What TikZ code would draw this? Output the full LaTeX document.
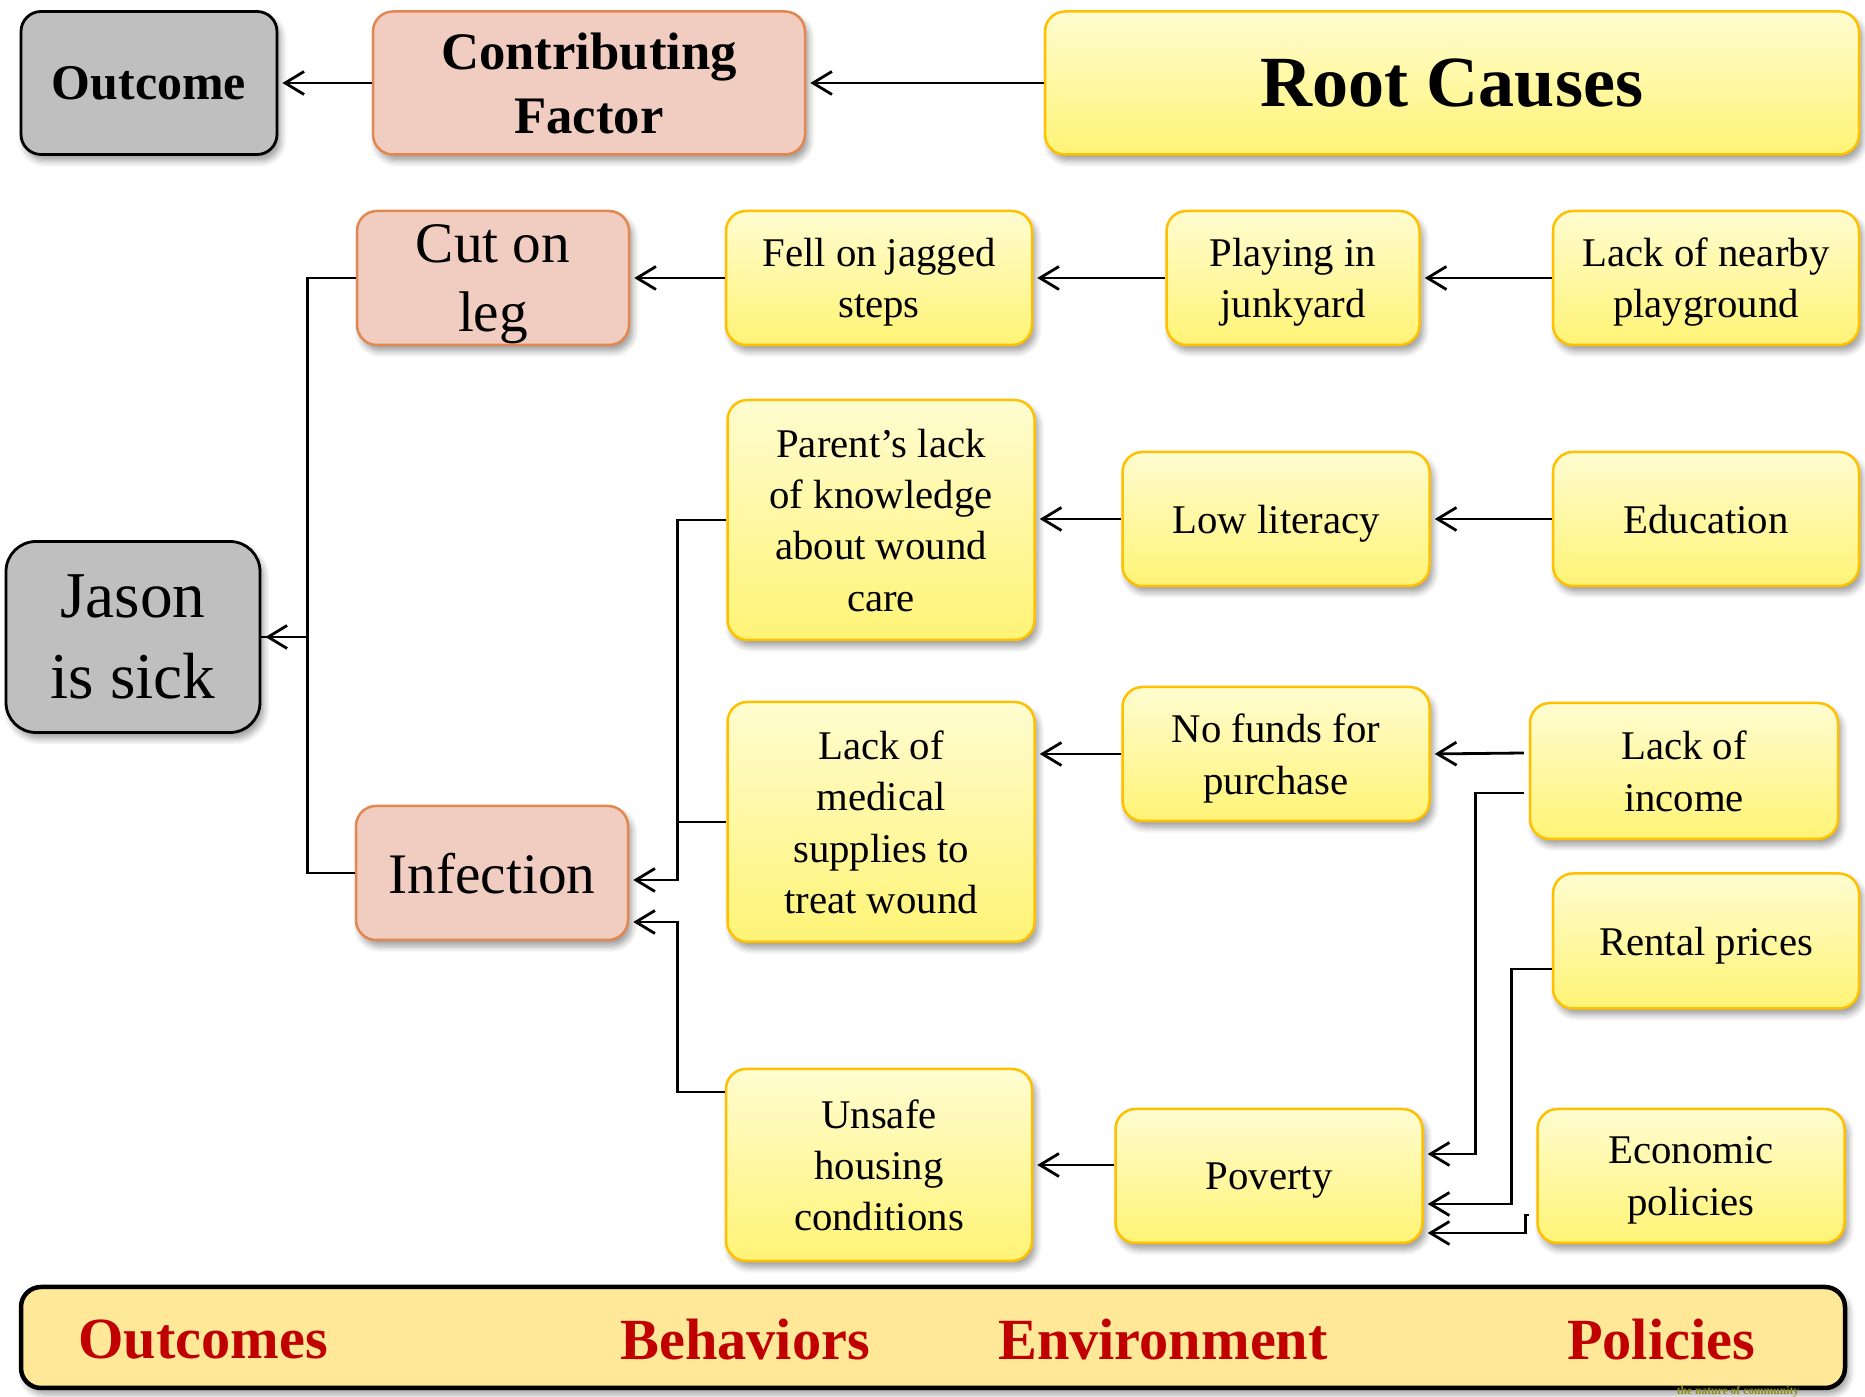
\documentclass[tikz,border=0pt]{standalone}
\usepackage{fontspec}
\setmainfont{Liberation Serif}
\usetikzlibrary{arrows.meta,shadows.blur}

\definecolor{ytop}{RGB}{255,252,208}
\definecolor{ybot}{RGB}{255,244,118}
\definecolor{gold}{RGB}{255,192,0}
\definecolor{pinkfill}{RGB}{240,205,192}
\definecolor{pinkline}{RGB}{226,135,80}
\definecolor{grayfill}{RGB}{191,191,191}
\definecolor{barfill}{RGB}{255,233,153}
\definecolor{barred}{RGB}{192,0,0}
\definecolor{olive}{RGB}{140,140,20}

\tikzset{
  soft/.style={blur shadow={shadow xshift=0.35mm, shadow yshift=-0.6mm,
                            shadow blur steps=6, shadow opacity=40}},
  box/.style={rounded corners=2mm, align=center, inner sep=0pt, text depth=0pt, soft},
  ybox/.style={box, draw=gold, line width=0.25mm, top color=ytop, bottom color=ybot,
               font=\fontsize{11.6}{14.6}\selectfont},
  pbox/.style={box, draw=pinkline, line width=0.25mm, fill=pinkfill},
  gbox/.style={box, draw=black, line width=0.28mm, fill=grayfill},
  arr/.style={-{Straight Barb[length=1.9mm,width=2.3mm,line width=0.28mm]},
              line width=0.28mm, shorten >=0.4mm},
  link/.style={line width=0.28mm},
  bartext/.style={text=barred, font=\fontsize{16.6}{20}\selectfont\bfseries}
}

\begin{document}
\begin{tikzpicture}[x=0.1mm, y=-0.1mm]
\useasboundingbox (0,0) rectangle (1865,1397);

% header row
\node[gbox, minimum width=25.6mm, minimum height=14.3mm,
      font=\fontsize{14.2}{17}\selectfont\bfseries] (outcome) at (149,83) {Outcome};
\node[pbox, minimum width=43.2mm, minimum height=14.3mm,
      font=\fontsize{15}{18.2}\selectfont\bfseries] (contrib) at (589,83) {Contributing\\Factor};
\node[ybox, minimum width=81.4mm, minimum height=14.3mm,
      font=\fontsize{20.5}{24}\selectfont\bfseries] (root) at (1452,83) {Root Causes};

% outcome and contributing factors
\node[gbox, rounded corners=3mm, minimum width=25.4mm, minimum height=19.1mm,
      font=\fontsize{18.6}{23}\selectfont] (jason) at (133,637) {Jason\\is sick};
\node[pbox, minimum width=27.2mm, minimum height=13.4mm,
      font=\fontsize{16.3}{19.6}\selectfont] (cut) at (493,278) {Cut on\\leg};
\node[pbox, minimum width=27.2mm, minimum height=13.4mm,
      font=\fontsize{16.3}{19.6}\selectfont] (infection) at (492,873) {Infection};

% behaviors
\node[ybox, minimum width=30.6mm, minimum height=13.4mm] (fell) at (879,278) {Fell on jagged\\steps};
\node[ybox, minimum width=30.7mm, minimum height=24.0mm] (parent) at (881,520)
     {Parent’s lack\\of knowledge\\about wound\\care};
\node[ybox, minimum width=30.7mm, minimum height=24.0mm] (medical) at (881,822)
     {Lack of\\medical\\supplies to\\treat wound};
\node[ybox, minimum width=30.6mm, minimum height=19.2mm] (unsafe) at (879,1165)
     {Unsafe\\housing\\conditions};

% environment
\node[ybox, minimum width=25.3mm, minimum height=13.4mm] (play) at (1293,278) {Playing in\\junkyard};
\node[ybox, minimum width=30.7mm, minimum height=13.4mm] (literacy) at (1276,519) {Low literacy};
\node[ybox, minimum width=30.7mm, minimum height=13.4mm] (funds) at (1276,754) {No funds for\\purchase};
\node[ybox, minimum width=30.7mm, minimum height=13.4mm] (poverty) at (1269,1176) {Poverty};

% policies
\node[ybox, minimum width=30.6mm, minimum height=13.4mm] (nearby) at (1706,278) {Lack of nearby\\playground};
\node[ybox, minimum width=30.6mm, minimum height=13.4mm] (educ) at (1706,519) {Education};
\node[ybox, minimum width=30.8mm, minimum height=13.6mm] (income) at (1684,771) {Lack of\\income};
\node[ybox, minimum width=30.6mm, minimum height=13.5mm] (rental) at (1706,941) {Rental prices};
\node[ybox, minimum width=30.7mm, minimum height=13.4mm] (econ) at (1691,1176) {Economic\\policies};

% header arrows
\draw[arr] (contrib.west) -- (outcome.east);
\draw[arr] (root.west) -- (contrib.east);

% first chain
\draw[arr] (fell.west) -- (cut.east);
\draw[arr] (play.west) -- (fell.east);
\draw[arr] (nearby.west) -- (play.east);

% knowledge chain
\draw[arr] (literacy.west) -- (parent.east |- literacy.west);
\draw[arr] (educ.west) -- (literacy.east);

% supplies chain
\draw[arr] (funds.west) -- (funds.west -| medical.east);
\draw[arr] ([xshift=-0.5mm,yshift=1.8mm]income.west) -- (funds.east);
\draw[arr] ([xshift=-0.5mm,yshift=-2.2mm]income.west) -- ++(-48,0)
           |- ([yshift=2.2mm]poverty.east);
\draw[arr] ([yshift=-2.8mm]rental.west) -- ++(-40,0)
           |- ([yshift=-2.8mm]poverty.east);
\draw[arr] ([xshift=-0.7mm,yshift=-3.9mm]econ.west) -- ++(-4,0)
           |- ([yshift=-5.7mm]poverty.east);
\draw[arr] (unsafe.east -| poverty.west) -- (unsafe.east);

% into the contributing factors
\draw[arr] (parent.west) -- ++(-49,0) |- ([yshift=-0.7mm]infection.east);
\draw[link] (medical.west) -- ++(-49,0);
\draw[arr] ([yshift=7.3mm]unsafe.west) -- ++(-47,0) |- ([yshift=-4.9mm]infection.east);

% into the outcome
\draw[arr] (cut.west) -- ++(-48,0) |- (jason.east);
\draw[link] (infection.west) -- ++(-47,0) |- (jason.east);

% category bar
\node[box, draw=black, line width=0.45mm, fill=barfill,
      minimum width=182.4mm, minimum height=10.1mm] (bar) at (933,1337.5) {};
\node[bartext] (catout) at (203,1340) {Outcomes};
\node[bartext] (catbeh) at (745,1340) {Behaviors};
\node[bartext] (catenv) at (1163,1340) {Environment};
\node[bartext] (catpol) at (1661,1340) {Policies};
\node[anchor=base, text=olive, inner sep=0pt,
      font=\fontsize{3.3}{4}\selectfont\bfseries] (credit) at (1738,1394.5) {the nature of community};
\end{tikzpicture}
\end{document}
